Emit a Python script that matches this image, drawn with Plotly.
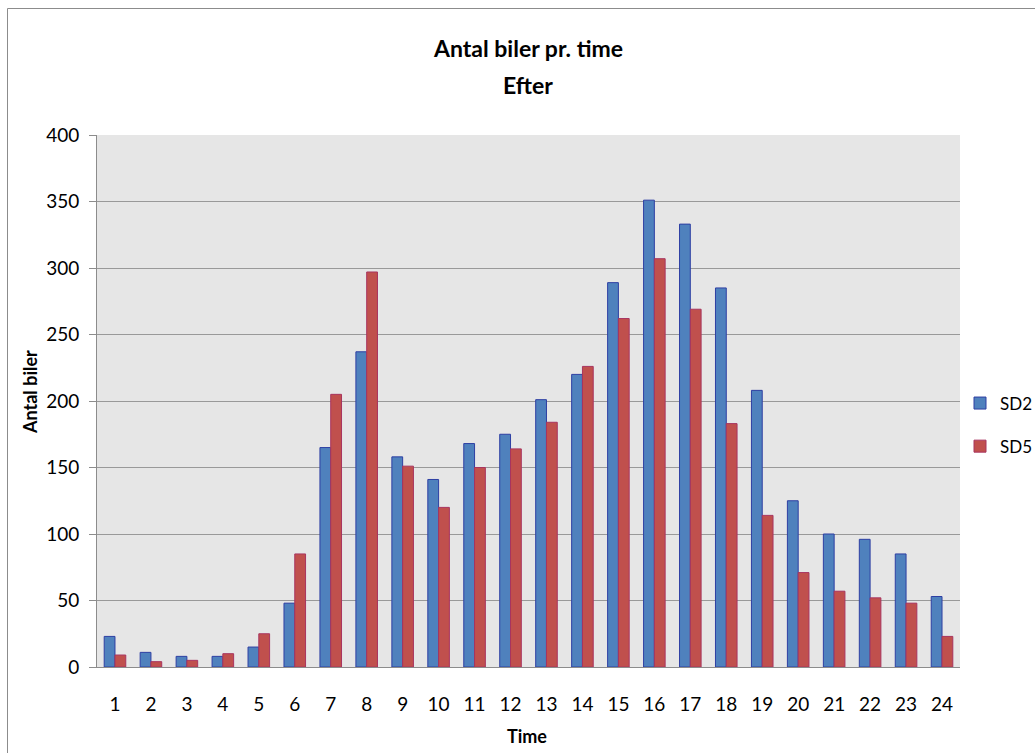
import plotly.graph_objects as go

hours = [str(i) for i in range(1, 25)]
sd2 = [23, 11, 8, 8, 15, 48, 165, 237, 158, 141, 168, 175, 201, 220, 289, 351, 333, 285, 208, 125, 100, 96, 85, 53]
sd5 = [9, 4, 5, 10, 25, 85, 205, 297, 151, 120, 150, 164, 184, 226, 262, 307, 269, 183, 114, 71, 57, 52, 48, 23]

W, H = 1035, 753
L, R, T, B = 97, 75, 135, 86
pw, ph = W - L - R, H - T - B

font = "Lato, 'Open Sans', sans-serif"


def px_x(x):
    return (x - L) / pw


def px_y(y):
    return (H - B - y) / ph


fig = go.Figure()
fig.add_trace(go.Bar(x=hours, y=sd2, name="SD2", legendgroup="a",
                     marker=dict(color="#4f81bd", line=dict(color="#2e3fa3", width=1))))
fig.add_trace(go.Bar(x=hours, y=sd5, name="SD5", legendgroup="b",
                     marker=dict(color="#c0504d", line=dict(color="#a8345f", width=1))))

fig.update_layout(
    width=W, height=H,
    margin=dict(l=L, r=R, t=T, b=B, autoexpand=False),
    paper_bgcolor="white",
    plot_bgcolor="#e6e6e6",
    barmode="group",
    bargap=0.4,
    bargroupgap=0,
    font=dict(family=font, size=19, color="black"),
    legend=dict(x=px_x(960), xanchor="left", y=px_y(425), yanchor="middle",
                font=dict(size=17), tracegroupgap=18, itemwidth=30,
                bgcolor="rgba(0,0,0,0)"),
    showlegend=True,
)
fig.update_xaxes(
    showline=True, linecolor="#8c8c8c", linewidth=1,
    ticks="", ticklabelstandoff=20,
    showgrid=False, tickfont=dict(size=19),
)
fig.update_yaxes(
    range=[0, 400], dtick=50,
    showline=True, linecolor="#8c8c8c", linewidth=1,
    ticks="outside", ticklen=7, tickcolor="#8c8c8c", ticklabelstandoff=6,
    showgrid=True, gridcolor="#999999", gridwidth=1,
    zeroline=False, tickfont=dict(size=19),
)

annos = [
    dict(text="<b>Antal biler pr. time</b>", x=px_x(528), y=px_y(48), size=23, angle=0),
    dict(text="<b>Efter</b>", x=px_x(528), y=px_y(85), size=23, angle=0),
    dict(text="<b>Time</b>", x=px_x(527), y=px_y(736), size=18, angle=0),
    dict(text="<b>Antal biler</b>", x=px_x(30), y=px_y(392), size=18, angle=-90),
]
for a in annos:
    fig.add_annotation(text=a["text"], x=a["x"], y=a["y"], xref="paper", yref="paper",
                       xanchor="center", yanchor="middle", showarrow=False,
                       textangle=a["angle"], font=dict(size=a["size"], family=font))

# outer chart border
fig.add_shape(type="rect", xref="paper", yref="paper",
              x0=px_x(7.5), x1=px_x(W + 20),
              y0=px_y(H + 20), y1=px_y(8.5),
              line=dict(color="#8c8c8c", width=1), fillcolor="rgba(0,0,0,0)", layer="below")

fig.write_html("out.html")
